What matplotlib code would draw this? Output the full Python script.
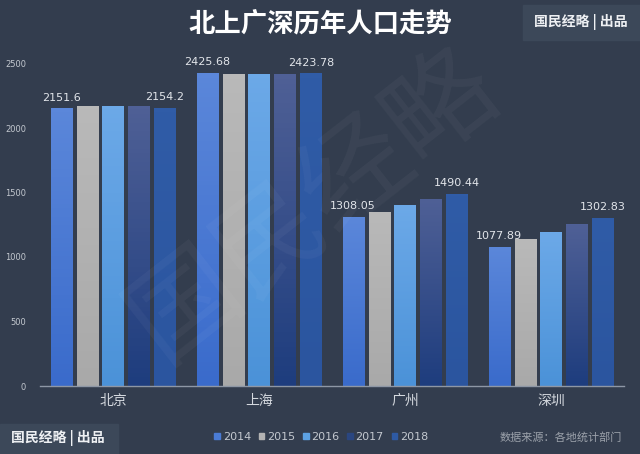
import matplotlib
matplotlib.use('Agg')
import matplotlib.pyplot as plt
import matplotlib.patches as mpatches
import numpy as np

plt.rcParams['font.family'] = ['Noto Sans CJK SC', 'DejaVu Sans']

cities = ['北京', '上海', '广州', '深圳']
years = ['2014', '2015', '2016', '2017', '2018']
pop_2014 = [2151.6, 2425.68, 1308.05, 1077.89]
pop_2015 = [2170.7, 2415.27, 1350.11, 1137.87]
pop_2016 = [2172.9, 2419.70, 1404.35, 1190.84]
pop_2017 = [2170.7, 2418.33, 1449.84, 1252.83]
pop_2018 = [2154.2, 2423.78, 1490.44, 1302.83]
yticks = [0, 500, 1000, 1500, 2000, 2500]

series = [pop_2014, pop_2015, pop_2016, pop_2017, pop_2018]
# top / bottom colour of each bar's gradient
grad = [('#5b87da', '#3a6bcb'),
        ('#b9b9b9', '#a9a9a9'),
        ('#6ca9e8', '#4b92d8'),
        ('#4f6096', '#1e3d7e'),
        ('#305ca7', '#2b559f')]
legend_col = ['#4a7bd4', '#b3b3b3', '#5da1e2', '#2a4680', '#2e5aa4']

bg = '#333d4e'
box_bg = '#3c4859'

fig = plt.figure(figsize=(6.4, 4.54), dpi=100)
fig.patch.set_facecolor(bg)
ax = fig.add_axes([40/640, 68/454, 584/640, 335.4/454])
ax.set_facecolor(bg)

x = np.arange(len(cities))
bw = 0.144
step = 0.178

for j, vals in enumerate(series):
    pos = x + (j - 2) * step
    bars = ax.bar(pos, vals, width=bw, color=grad[j][1], edgecolor='none', zorder=2)
    top_rgb = np.array(matplotlib.colors.to_rgb(grad[j][0]))
    bot_rgb = np.array(matplotlib.colors.to_rgb(grad[j][1]))
    g = np.linspace(0, 1, 64)[:, None]
    img = (top_rgb * (1 - g) + bot_rgb * g)[:, None, :]
    for b in bars:
        bx = b.get_x()
        h = b.get_height()
        im = ax.imshow(img, extent=[bx, bx + bw, 0, h], aspect='auto',
                       origin='upper', zorder=3)
        im.set_clip_path(b)
    if j in (0, 4):
        for p, v in zip(pos, vals):
            ax.text(p, v + 45, '{:g}'.format(v), ha='center', va='bottom',
                    fontsize=8, color='#e2e5ea', family='DejaVu Sans', zorder=5)

ax.set_xlim(-0.5, 3.5)
ax.set_ylim(0, 2600)
ax.set_yticks(yticks)
ax.set_yticklabels([str(t) for t in yticks], fontsize=6, color='#c3c8cf',
                   family='DejaVu Sans')
ax.set_xticks(x)
ax.set_xticklabels(cities, fontsize=10, color='#d4d8de')
ax.tick_params(axis='both', length=0)
ax.tick_params(axis='y', pad=10)
ax.tick_params(axis='x', pad=6)
for s in ['top', 'right', 'left']:
    ax.spines[s].set_visible(False)
ax.spines['bottom'].set_color('#8e97a5')
ax.spines['bottom'].set_linewidth(1.0)
ax.spines['bottom'].set_zorder(6)

# watermark
fig.text(0.49, 0.55, '国民经略', fontsize=78, color='white', alpha=0.04,
         rotation=38, ha='center', va='center')

# title
fig.text(0.5, 0.945, '北上广深历年人口走势', fontsize=19, color='white',
         ha='center', va='center', weight='bold')

# brand boxes
fig.patches.append(mpatches.Rectangle((523/640, 1 - 40/454), 117/640, 35/454,
                                      transform=fig.transFigure, color=box_bg, zorder=0))
fig.text(581/640, 1 - 22/454, '国民经略 | 出品', fontsize=10, color='#eef0f3',
         ha='center', va='center', weight='bold')
fig.patches.append(mpatches.Rectangle((0, 0), 118/640, 30/454,
                                      transform=fig.transFigure, color=box_bg, zorder=0))
fig.text(58/640, 16/454, '国民经略 | 出品', fontsize=10, color='#eef0f3',
         ha='center', va='center', weight='bold')

# legend
handles = [mpatches.Patch(color=c, label=y) for c, y in zip(legend_col, years)]
leg = fig.legend(handles=handles, loc='center', bbox_to_anchor=(0.502, 17/454),
                 ncol=5, frameon=False, fontsize=8, handlelength=0.5,
                 handleheight=0.5, handletextpad=0.25, columnspacing=0.7)
for t in leg.get_texts():
    t.set_color('#c3c8cf')
    t.set_family('DejaVu Sans')

fig.text(622/640, 17/454, '数据来源：各地统计部门', fontsize=8, color='#9ba1aa',
         ha='right', va='center')

fig.savefig('out.png', dpi=100, facecolor=bg)
